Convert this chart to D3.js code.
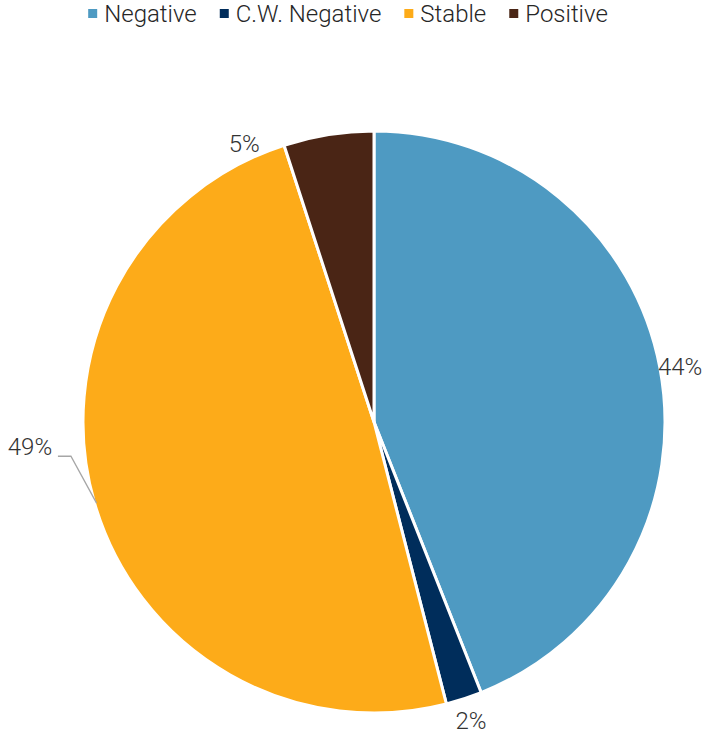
<!DOCTYPE html>
<html>
<head>
<meta charset="utf-8">
<script src="https://cdn.jsdelivr.net/npm/d3@7"></script>
<style>
  html, body { margin: 0; padding: 0; background: #fff; }
  svg { display: block; }
  text { font-family: Roboto, "Noto Sans", sans-serif; font-weight: 300; fill: #333; }
</style>
</head>
<body>
<svg id="chart" width="708" height="735"></svg>
<script>
// Outlook distribution
const categories = ["Negative", "C.W. Negative", "Stable", "Positive"];
const values = [44, 2, 49, 5];
const colors = ["#4E9AC2", "#002D5B", "#FDAB19", "#4A2515"];

const W = 708, H = 735;
const cx = 374, cy = 422, R = 291;

const svg = d3.select("#chart");

const color = d3.scaleOrdinal().domain(categories).range(colors);

const pie = d3.pie().sort(null).value(d => d.value);
const data = categories.map((c, i) => ({ name: c, value: values[i] }));
const arcs = pie(data);

const arc = d3.arc().innerRadius(0).outerRadius(R);
const g = svg.append("g").attr("transform", `translate(${cx},${cy})`);

g.selectAll("path.slice")
  .data(arcs)
  .join("path")
  .attr("class", "slice")
  .attr("d", arc)
  .attr("fill", d => color(d.data.name))
  .attr("stroke", "#fff")
  .attr("stroke-width", 3)
  .attr("stroke-linejoin", "round");

// Data labels: placed just outside the rim; some are nudged away from neighbours
const labelNudge = {
  "Negative": { r: 20, da: 0.6 },
  "C.W. Negative": { r: 23, da: 0 },
  "Stable": { r: 54, da: 12, leader: true },
  "Positive": { r: 16, da: -16 }
};

arcs.forEach(a => {
  const nd = labelNudge[a.data.name];
  const mid = (a.startAngle + a.endAngle) / 2;
  const ang = mid + nd.da * Math.PI / 180;
  const lr = R + nd.r;
  const lx = lr * Math.sin(ang);
  const ly = -lr * Math.cos(ang);
  if (nd.leader) {
    const ex = R * Math.sin(mid), ey = -R * Math.cos(mid);
    g.append("polyline")
      .attr("points", [[ex + 2, ey], [lx + 41, ly + 9], [lx + 28, ly + 9]].map(p => p.join(",")).join(" "))
      .attr("fill", "none")
      .attr("stroke", "#a6a6a6")
      .attr("stroke-width", 1.3);
  }
  g.append("text")
    .attr("x", lx)
    .attr("y", ly)
    .attr("text-anchor", "middle")
    .attr("dominant-baseline", "central")
    .attr("font-size", 24)
    .text(`${a.data.value}%`);
});

// Legend across the top
const legend = svg.append("g");
let x = 0;
const itemGap = 23;
categories.forEach(c => {
  const it = legend.append("g").attr("transform", `translate(${x},0)`);
  it.append("rect").attr("x", 0).attr("y", -5).attr("width", 9).attr("height", 9).attr("fill", color(c));
  const t = it.append("text").attr("x", 16).attr("y", 0)
    .attr("dominant-baseline", "central").attr("font-size", 24)
    .style("fill", "#262626").text(c);
  const w = t.node().getComputedTextLength();
  x += 16 + w + itemGap;
});
const totalW = x - itemGap;
legend.attr("transform", `translate(${(W - totalW) / 2 - 6},14)`);
</script>
</body>
</html>
